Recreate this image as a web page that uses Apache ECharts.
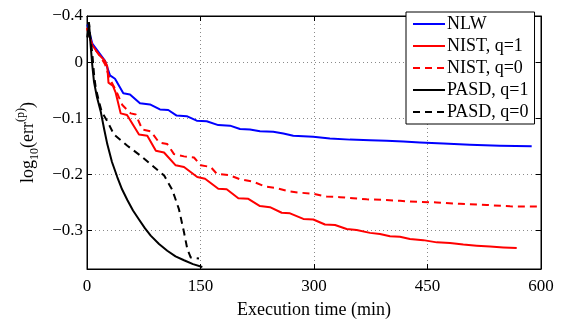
<!DOCTYPE html>
<html>
<head>
<meta charset="utf-8">
<script src="https://cdn.jsdelivr.net/npm/echarts@6/dist/echarts.min.js"></script>
<style>html,body{margin:0;padding:0;background:#fff;}#c{width:564px;height:324px;}</style>
</head>
<body>
<div id="c"></div>
<script>
// ---- data ----
const seriesNames = ['NLW', 'NIST, q=1', 'NIST, q=0', 'PASD, q=1', 'PASD, q=0'];

const nlwX = [0.4, 7, 23.8, 30.4, 37, 48, 56.8, 70, 83.2, 96.4, 107.4, 118.5, 131.8, 145, 158.2, 173.5, 189, 202.2, 215.4, 228.6, 246.2, 259.5, 272.6, 299, 321, 347.6, 374, 396, 418, 440, 471, 506, 545.6, 587.7];
const nlwY = [0.068, 0.034, 0.003, -0.023, -0.029, -0.055, -0.057, -0.073, -0.075, -0.084, -0.085, -0.095, -0.096, -0.104, -0.105, -0.112, -0.113, -0.119, -0.120, -0.123, -0.124, -0.127, -0.131, -0.133, -0.136, -0.138, -0.139, -0.140, -0.1415, -0.143, -0.145, -0.147, -0.149, -0.150];

const nist1X = [0, 7, 15.9, 23.8, 26.8, 28.4, 34.4, 37.9, 44.5, 52.9, 68.7, 79.7, 91.0, 101.8, 117.2, 128.2, 145.7, 156.0, 173.5, 184.6, 200.0, 213.2, 228.6, 241.8, 257.3, 268.3, 285.9, 299.1, 314.5, 327.8, 343.2, 356.4, 374.0, 387.2, 400.4, 413.6, 426.8, 444.5, 462.2, 479.7, 497.3, 515.0, 532.6, 550.2, 567.9];
const nist1Y = [0.062, 0.031, 0.014, 0.003, -0.007, -0.036, -0.042, -0.054, -0.091, -0.094, -0.129, -0.131, -0.158, -0.161, -0.184, -0.187, -0.205, -0.208, -0.226, -0.227, -0.243, -0.244, -0.257, -0.259, -0.269, -0.270, -0.280, -0.281, -0.290, -0.291, -0.298, -0.300, -0.305, -0.307, -0.311, -0.312, -0.316, -0.318, -0.322, -0.323, -0.326, -0.328, -0.3295, -0.331, -0.332];

const nist0X = [0, 7, 17.2, 23.8, 30.4, 34.4, 38.3, 46.7, 57.8, 64.4, 73.1, 84.2, 95.2, 106.1, 115.0, 128.2, 141.4, 150.3, 163.5, 171.4, 189.0, 202.2, 219.8, 235.2, 250.7, 268.3, 281.5, 299.1, 316.8, 334.4, 351.9, 369.7, 391.6, 413.7, 426.9, 462.2, 493.0, 528.3, 559.1, 600];
const nist0Y = [0.062, 0.030, 0.012, -0.003, -0.030, -0.040, -0.050, -0.076, -0.091, -0.093, -0.120, -0.123, -0.143, -0.146, -0.164, -0.168, -0.170, -0.184, -0.187, -0.199, -0.202, -0.209, -0.2135, -0.222, -0.225, -0.231, -0.233, -0.235, -0.240, -0.241, -0.243, -0.245, -0.246, -0.2475, -0.249, -0.2505, -0.253, -0.255, -0.2575, -0.258];

const pasd1X = [0.7, 2.6, 4.9, 7.0, 9.3, 13.2, 18.1, 22.5, 26.8, 33.0, 40.0, 46.3, 53.3, 60.8, 68.7, 76.7, 84.2, 95.2, 106.1, 117.0, 128.2, 140.1, 152.4];
const pasd1Y = [0.045, 0.071, 0.030, -0.005, -0.035, -0.062, -0.0875, -0.118, -0.146, -0.178, -0.205, -0.227, -0.246, -0.265, -0.281, -0.297, -0.310, -0.325, -0.337, -0.347, -0.354, -0.361, -0.366];

const pasd0X = [0.7, 2.6, 4.9, 7.0, 9.3, 11.5, 15.9, 19.4, 26.8, 35.7, 53.3, 71.0, 88.5, 101.8, 112.7, 121.6, 128.2, 132.6, 137.0, 148.0];
const pasd0Y = [0.045, 0.071, 0.040, 0.016, -0.021, -0.045, -0.070, -0.088, -0.105, -0.129, -0.149, -0.167, -0.187, -0.202, -0.228, -0.263, -0.304, -0.334, -0.349, -0.351];

const xTicks = [0, 150, 300, 450, 600];
const yTickValues = [-0.3, -0.2, -0.1, 0, 0.0834];
const yTickLabels = ['\u22120.3', '\u22120.2', '\u22120.1', '0', '\u22120.4'];
const xAxisTitle = 'Execution time (min)';

// ---- chart ----
function pairs(xs, ys) { return xs.map((x, i) => [x, ys[i]]); }
const FONT = "'Times New Roman', 'Liberation Serif', Times, serif";
const chart = echarts.init(document.getElementById('c'), null, { renderer: 'canvas' });

function yLabel(v) {
  for (let i = 0; i < yTickValues.length; i++) if (Math.abs(v - yTickValues[i]) < 1e-6) return yTickLabels[i];
  return '';
}
const gridLine = { show: true, lineStyle: { color: '#8a8a8a', type: [1, 3], width: 1 } };
const tickIn = { show: true, inside: true, length: 5, lineStyle: { color: '#000', width: 1 } };

const mk = (name, xs, ys, color, dashed) => ({
  name, type: 'line', data: pairs(xs, ys), showSymbol: false, symbol: 'none',
  xAxisIndex: 0, yAxisIndex: 0, animation: false,
  lineStyle: { color, width: 2, type: dashed ? [7, 5] : 'solid', join: 'round', cap: 'butt' },
  itemStyle: { color }
});

chart.setOption({
  animation: false,
  backgroundColor: '#fff',
  textStyle: { fontFamily: FONT },
  grid: { left: 87, right: 23, top: 16, bottom: 50, show: true, borderColor: '#000', borderWidth: 1, containLabel: false },
  legend: {
    orient: 'vertical', left: 406, top: 12,
    padding: [2, 6, 2, 6],
    itemWidth: 32, itemHeight: 12, itemGap: 2,
    backgroundColor: '#fff', borderColor: '#000', borderWidth: 1,
    itemStyle: { opacity: 0, borderWidth: 0 },
    textStyle: { fontFamily: FONT, fontSize: 18, color: '#000', lineHeight: 20, padding: [0, 0, 0, -3] },
    data: seriesNames.map(n => ({ name: n })),
    z: 10
  },
  xAxis: [{
    type: 'value', min: 0, max: 600, interval: 150, position: 'bottom',
    name: xAxisTitle, nameLocation: 'middle', nameGap: 32,
    nameTextStyle: { fontFamily: FONT, fontSize: 18, color: '#000' },
    axisLine: { show: true, onZero: false, lineStyle: { color: '#000' } },
    axisTick: tickIn,
    axisLabel: { color: '#000', fontFamily: FONT, fontSize: 17, margin: 9, customValues: xTicks },
    splitLine: gridLine
  }, {
    type: 'value', min: 0, max: 600, interval: 150, position: 'top',
    axisLine: { show: true, onZero: false, lineStyle: { color: '#000' } },
    axisTick: tickIn, axisLabel: { show: false }, splitLine: { show: false }
  }],
  yAxis: [{
    type: 'value', min: -0.3697, max: 0.0834, position: 'left',
    name: '{a|log}{b|10}{a|(err}{c|(p)}{a|)}',
    nameLocation: 'middle', nameRotate: 90, nameGap: 43,
    nameTextStyle: {
      fontFamily: FONT, color: '#000',
      rich: {
        a: { fontFamily: FONT, fontSize: 18, color: '#000', lineHeight: 26, verticalAlign: 'middle' },
        b: { fontFamily: FONT, fontSize: 12, color: '#000', lineHeight: 12, verticalAlign: 'bottom' },
        c: { fontFamily: FONT, fontSize: 12, color: '#000', lineHeight: 12, verticalAlign: 'top' }
      }
    },
    axisLine: { show: true, onZero: false, lineStyle: { color: '#000' } },
    axisTick: Object.assign({}, tickIn, { customValues: yTickValues }),
    axisLabel: { color: '#000', fontFamily: FONT, fontSize: 17, margin: 4, customValues: yTickValues, formatter: yLabel },
    splitLine: gridLine
  }, {
    type: 'value', min: -0.3697, max: 0.0834, position: 'right',
    axisLine: { show: true, onZero: false, lineStyle: { color: '#000' } },
    axisTick: Object.assign({}, tickIn, { customValues: yTickValues }),
    axisLabel: { show: false }, splitLine: { show: false }
  }],
  series: [
    mk(seriesNames[0], nlwX, nlwY, '#0000ff', false),
    mk(seriesNames[1], nist1X, nist1Y, '#ff0000', false),
    mk(seriesNames[2], nist0X, nist0Y, '#ff0000', true),
    mk(seriesNames[3], pasd1X, pasd1Y, '#000000', false),
    mk(seriesNames[4], pasd0X, pasd0Y, '#000000', true)
  ]
});
</script>
</body>
</html>
